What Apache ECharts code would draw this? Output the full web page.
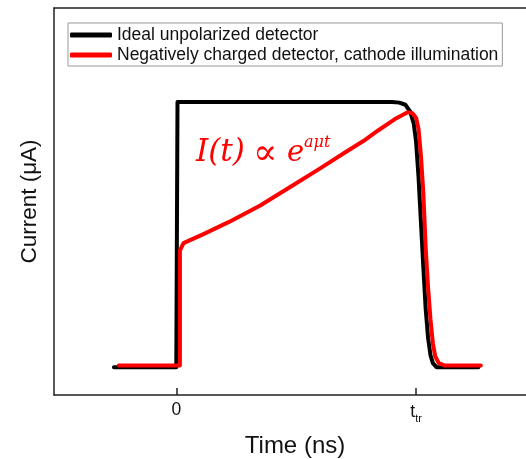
<!DOCTYPE html>
<html><head><meta charset="utf-8">
<script src="https://cdn.jsdelivr.net/npm/echarts@6/dist/echarts.min.js"></script>
<style>html,body{margin:0;padding:0;background:#fff}#c{width:526px;height:459px}</style>
</head><body><div id="c"></div>
<script>
// Time (t_tr = 10 units), current normalized to plateau = 1
const idealT = [-2.6, 0, 0.05, 3, 6, 9.0, 9.3, 9.55, 9.75, 9.9, 10.0, 10.1, 10.2, 10.3, 10.4, 10.5, 10.6, 10.7, 10.85, 11.2, 12.6];
const idealI = [0, 0, 1, 1, 1, 1, 0.998, 0.99, 0.965, 0.92, 0.85, 0.72, 0.55, 0.38, 0.22, 0.11, 0.045, 0.015, 0, 0, 0];
const chargedT = [-2.4, 0.15, 0.15, 0.3, 1.2, 2.2, 3.5, 4.9, 6.0, 7.0, 7.8, 8.4, 9.1, 9.65, 9.85, 10.0, 10.1, 10.2, 10.3, 10.4, 10.5, 10.6, 10.7, 10.8, 10.95, 11.2, 12.7];
const chargedI = [0.006, 0.006, 0.44, 0.468, 0.505, 0.548, 0.61, 0.688, 0.75, 0.808, 0.853, 0.892, 0.935, 0.962, 0.958, 0.94, 0.9, 0.8, 0.66, 0.45, 0.3, 0.18, 0.09, 0.04, 0.015, 0.006, 0.006];
const tickValues = [0, 10];
const tickLabels = ['{t|0}', '{t|t}{s|tr}'];
const seriesNames = ['Ideal unpolarized detector', 'Negatively charged detector, cathode illumination'];

const zip = (a, b) => a.map((v, i) => [v, b[i]]);
const font = 'Liberation Sans, Arial, sans-serif';
const serif = '"DejaVu Serif", "Liberation Serif", serif';
const chart = echarts.init(document.getElementById('c'));
chart.setOption({
  animation: false,
  grid: { left: 54, width: 482, top: 8, bottom: 64, outerBoundsMode: 'none', containLabel: false },
  legend: {
    orient: 'vertical', left: 68, top: 23,
    itemWidth: 42, itemHeight: 5, itemGap: 2, icon: 'roundRect',
    padding: [3, 4, 2, 2],
    borderColor: '#999', borderWidth: 1, backgroundColor: '#fff',
    textStyle: { fontFamily: font, fontSize: 17.5, color: '#111' },
    data: seriesNames
  },
  xAxis: [{
    type: 'value', min: -5.1, max: 15,
    name: 'Time (ns)', nameLocation: 'middle', nameGap: 39,
    nameTextStyle: { fontFamily: font, fontSize: 24, color: '#111' },
    axisLine: { show: true, onZero: false, lineStyle: { color: '#222', width: 1.5 } },
    axisTick: { show: true, inside: true, length: 7, customValues: tickValues, lineStyle: { color: '#222', width: 1.5 } },
    axisLabel: {
      customValues: tickValues, margin: 6,
      formatter: v => tickLabels[tickValues.indexOf(v)],
      rich: {
        t: { fontFamily: font, fontSize: 17.5, color: '#111' },
        s: { fontFamily: font, fontSize: 11, color: '#111', padding: [12, 0, 0, 0] }
      }
    },
    splitLine: { show: false }
  }, {
    type: 'value', position: 'top', min: -5.1, max: 15,
    axisLine: { show: true, onZero: false, lineStyle: { color: '#222', width: 1.5 } },
    axisTick: { show: false }, axisLabel: { show: false }, splitLine: { show: false }
  }],
  yAxis: {
    type: 'value', min: -0.105, max: 1.355,
    name: 'Current (μA)', nameLocation: 'middle', nameGap: 13,
    nameTextStyle: { fontFamily: font, fontSize: 22.5, color: '#111' },
    axisLine: { show: true, onZero: false, lineStyle: { color: '#222', width: 1.5 } },
    axisTick: { show: false }, axisLabel: { show: false }, splitLine: { show: false }
  },
  graphic: [
    { type: 'text', x: 196, y: 153, style: { text: 'I(t)', fill: '#f00', verticalAlign: 'middle', font: 'italic 31px ' + serif } },
    { type: 'text', x: 253, y: 155, style: { text: '∝', fill: '#f00', verticalAlign: 'middle', font: '36px ' + serif } },
    { type: 'text', x: 287, y: 153, style: { text: 'e', fill: '#f00', verticalAlign: 'middle', font: 'italic 29px ' + serif } },
    { type: 'text', x: 304, y: 143, style: { text: 'aμt', fill: '#f00', verticalAlign: 'middle', font: 'italic 16px ' + serif } }
  ],
  series: [
    { name: seriesNames[0], type: 'line', data: zip(idealT, idealI), symbol: 'none', smooth: false,
      lineStyle: { color: '#000', width: 4, cap: 'round', join: 'round' }, itemStyle: { color: '#000' } },
    { name: seriesNames[1], type: 'line', data: zip(chargedT, chargedI), symbol: 'none', smooth: false,
      lineStyle: { color: '#f00', width: 4, cap: 'round', join: 'round' }, itemStyle: { color: '#f00' } }
  ]
});
</script></body></html>
